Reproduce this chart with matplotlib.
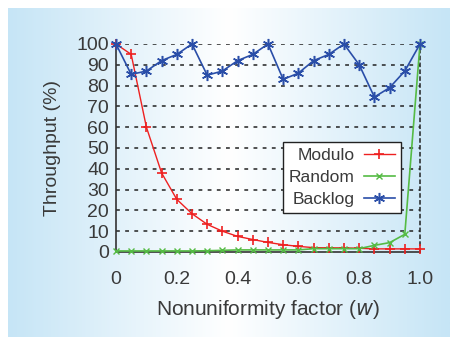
import numpy as np
import matplotlib
matplotlib.use("Agg")
import matplotlib.pyplot as plt
from matplotlib.colors import LinearSegmentedColormap

w = [0, 0.05, 0.1, 0.15, 0.2, 0.25, 0.3, 0.35, 0.4, 0.45, 0.5,
     0.55, 0.6, 0.65, 0.7, 0.75, 0.8, 0.85, 0.9, 0.95, 1.0]
modulo = [100, 95, 60, 38, 25.3, 18.4, 13.3, 10, 7.5, 6, 4.6,
          3.5, 2.7, 2.1, 2, 2, 1.8, 1.5, 1.5, 1.5, 1.5]
random_ = [0.5, 0.5, 0.5, 0.5, 0.5, 0.5, 0.6, 0.8, 1, 1, 1,
           1, 1, 1.6, 1.6, 1.6, 1.6, 3.2, 4.5, 8.5, 100]
backlog = [100, 85.4, 87, 92, 95, 100, 85, 87, 92, 95, 100,
           83, 86, 92, 95, 100, 90, 74.5, 79, 87, 100]
yticks = list(range(0, 101, 10))
xticks = [0, 0.2, 0.4, 0.6, 0.8, 1.0]
xticklabels = ["0", "0.2", "0.4", "0.6", "0.8", "1.0"]

plt.rcParams['font.family'] = ['Liberation Sans', 'DejaVu Sans']
txt = '#3a3a3a'

fig = plt.figure(figsize=(4.54, 3.38), dpi=100)
fig.patch.set_facecolor('white')

# background panel with horizontal gradient
bg = fig.add_axes([8/454, 1-337/338, (450-8)/454, (337-8)/338])
bg.set_axis_off()
cmap = LinearSegmentedColormap.from_list('g', ['#c6e5f6', '#ffffff', '#c6e5f6'])
grad = np.linspace(0, 1, 256)[None, :]
bg.imshow(grad, aspect='auto', cmap=cmap, extent=[0, 1, 0, 1])
bg.set_xlim(0, 1); bg.set_ylim(0, 1)

ax = fig.add_axes([116/454, 1-252/338, (420-116)/454, (252-44)/338])
ax.patch.set_alpha(0)
ax.set_xlim(0, 1)
ax.set_ylim(0, 100)

for y in yticks[1:]:
    ax.axhline(y, color='#222222', lw=1.1, ls=(0, (2.5, 3.5)), zorder=1)

ax.plot(w, modulo, color='#ee2020', lw=1.0, marker='+', ms=7, mew=1.2,
        label='Modulo', clip_on=False, zorder=3)
ax.plot(w, random_, color='#55bb44', lw=1.2, marker='x', ms=5, mew=1.0,
        label='Random', clip_on=False, zorder=3)
ax.plot(w, backlog, color='#2a4ea8', lw=1.2, marker=(6, 2, 0), ms=8, mew=1.1,
        label='Backlog', clip_on=False, zorder=4)

ax.spines['top'].set_visible(False)
ax.spines['right'].set_linestyle((0, (2, 2.5)))
ax.spines['right'].set_color('#222222')
ax.spines['right'].set_linewidth(1.1)
ax.spines['left'].set_color('#333333')
ax.spines['bottom'].set_color('#333333')
ax.spines['left'].set_linewidth(1.2)
ax.spines['bottom'].set_linewidth(1.2)

ax.set_yticks(yticks)
ax.set_xticks(xticks)
ax.set_xticklabels(xticklabels)
ax.tick_params(axis='both', length=0, labelsize=14, colors=txt)
ax.tick_params(axis='y', pad=5)
ax.tick_params(axis='x', pad=14)

ax.set_xlabel('Nonuniformity factor ($\\mathit{w}$)', fontsize=15, color=txt, labelpad=7)
ax.set_ylabel('Throughput (%)', fontsize=14, color=txt, labelpad=11)

leg = ax.legend(loc='upper left', bbox_to_anchor=((283-116)/304, (252-142)/208),
                markerfirst=False, fontsize=12.5, frameon=True, fancybox=False,
                edgecolor='#222222', framealpha=1, handlelength=1.8,
                handletextpad=0.5, borderpad=0.35, labelspacing=0.4,
                borderaxespad=0)
leg.get_frame().set_linewidth(1.0)
for t in leg.get_texts():
    t.set_color(txt)

fig.savefig('out.png', dpi=100)
